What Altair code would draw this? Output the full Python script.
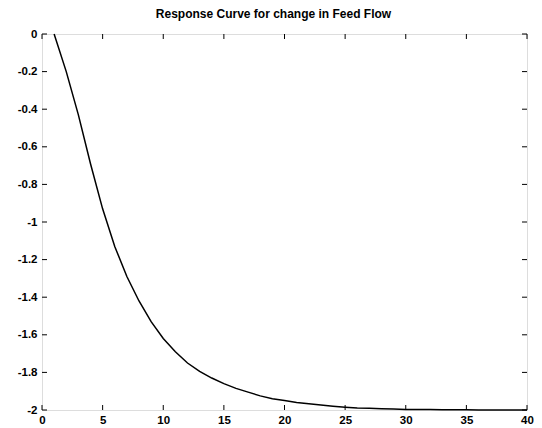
import altair as alt
import pandas as pd

# Response data (sample index vs response)
t = list(range(1, 41))
resp = [0.0, -0.20, -0.43, -0.69, -0.93, -1.13, -1.29, -1.42, -1.53, -1.62,
        -1.69, -1.75, -1.795, -1.83, -1.86, -1.885, -1.905, -1.925, -1.94, -1.95,
        -1.96, -1.967, -1.974, -1.98, -1.985, -1.989, -1.991, -1.993, -1.995, -1.997,
        -1.998, -1.998, -1.999, -1.999, -1.999, -2.0, -2.0, -2.0, -2.0, -2.0]

x_ticks = [0, 5, 10, 15, 20, 25, 30, 35, 40]
y_ticks = [0, -0.2, -0.4, -0.6, -0.8, -1, -1.2, -1.4, -1.6, -1.8, -2]

title = "Response Curve for change in Feed Flow"

W, H = 485, 376
FONT = "Liberation Sans"

df = pd.DataFrame({"t": t, "y": resp})
dx = pd.DataFrame({"t": x_ticks})
dy = pd.DataFrame({"y": y_ticks})

xs = alt.Scale(domain=[0, 40], nice=False, zero=False)
ys = alt.Scale(domain=[-2, 0], nice=False, zero=False)

x_axis = alt.Axis(values=x_ticks, ticks=False, domain=False, grid=False,
                  labelFont=FONT, labelFontSize=11.5, labelFontWeight="bold",
                  labelColor="black", labelPadding=4, labelFlush=False)
y_axis = alt.Axis(values=y_ticks, ticks=False, domain=False, grid=False,
                  labelFont=FONT, labelFontSize=11.5, labelFontWeight="bold",
                  labelColor="black", labelPadding=5, labelFlush=False,
                  labelExpr="datum.value == 0 ? '0' : '-' + format(abs(datum.value), '.1~f')")

X = alt.X("t:Q", scale=xs, title=None, axis=x_axis)
Y = alt.Y("y:Q", scale=ys, title=None, axis=y_axis)

line = alt.Chart(df).mark_line(color="black", strokeWidth=1.5).encode(x=X, y=Y)

tick_len = 5
bottom = alt.Chart(dx).mark_rule(color="black", strokeWidth=1).encode(
    x=X, y=alt.value(H), y2=alt.value(H - tick_len))
top = alt.Chart(dx).mark_rule(color="black", strokeWidth=1).encode(
    x=X, y=alt.value(0), y2=alt.value(tick_len))
left = alt.Chart(dy).mark_rule(color="black", strokeWidth=1).encode(
    y=Y, x=alt.value(0), x2=alt.value(tick_len))
right = alt.Chart(dy).mark_rule(color="black", strokeWidth=1).encode(
    y=Y, x=alt.value(W), x2=alt.value(W - tick_len))

chart = alt.layer(line, bottom, top, left, right).properties(
    width=W, height=H,
    title=alt.TitleParams(title, font=FONT, fontSize=12, fontWeight="bold",
                          color="black", offset=7, dx=-11),
    autosize=alt.AutoSizeParams(type="none"),
    padding={"left": 34, "top": 26, "right": 7, "bottom": 18},
).configure_view(stroke="black", strokeWidth=1.5).configure(background="white")

chart.save("out.html", embed_options={"renderer": "svg", "actions": False})
